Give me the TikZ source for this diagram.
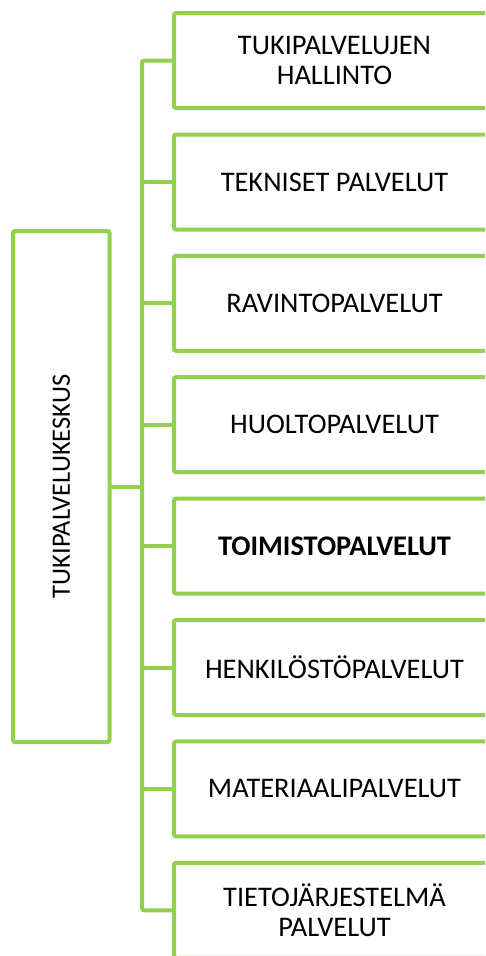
\documentclass[tikz,border=0pt]{standalone}
\usepackage{fontspec}
\setmainfont{Carlito}
\definecolor{boxGreen}{RGB}{146,208,80}
\begin{document}
\begin{tikzpicture}[x=1pt, y=-1pt,
    boxStyle/.style={draw=boxGreen, line width=4pt, rounded corners=2pt, outer sep=0pt, inner sep=2pt, minimum width=321pt, minimum height=95pt, align=center, anchor=west, font=\fontsize{28.4}{30}\selectfont},
    lineStyle/.style={draw=boxGreen, line width=4pt, rounded corners=2pt}]
    \useasboundingbox (0,0) rectangle (485,956);
    \clip (0,0) rectangle (485,956);

    \node[boxStyle, rotate=90, anchor=center, minimum width=511pt, minimum height=96.5pt, font=\fontsize{26.5}{30}\selectfont](keskus) at (61.25,486.5) {TUKIPALVELUKESKUS};

    \node[boxStyle](hallinto) at (174, 60.5) {TUKIPALVELUJEN\\HALLINTO};
    \node[boxStyle](tekniset) at (174,182) {TEKNISET PALVELUT};
    \node[boxStyle](ravinto) at (174,303.3) {RAVINTOPALVELUT};
    \node[boxStyle](huolto) at (174,424.7) {HUOLTOPALVELUT};
    \node[boxStyle, font=\fontsize{28.4}{30}\selectfont\bfseries](toimisto) at (174,546) {TOIMISTOPALVELUT};
    \node[boxStyle](henkilosto) at (174,667.5) {HENKILÖSTÖPALVELUT};
    \node[boxStyle](materiaali) at (174,788.9) {MATERIAALIPALVELUT};
    \node[boxStyle](tieto) at (174,910.3) {TIETOJÄRJESTELMÄ\\PALVELUT};

    \coordinate (trunkTop) at (142, 60.5);
    \coordinate (trunkBottom) at (142,910.3);

    \draw[lineStyle] (hallinto.west) -- (trunkTop) -- (trunkBottom) -- (tieto.west);
    \foreach \n in {tekniset, ravinto, huolto, toimisto, henkilosto, materiaali}
        \draw[lineStyle] (\n.west) -- (\n.west -| trunkTop);
    \draw[lineStyle] (keskus) -- (keskus -| trunkTop);
\end{tikzpicture}
\end{document}
